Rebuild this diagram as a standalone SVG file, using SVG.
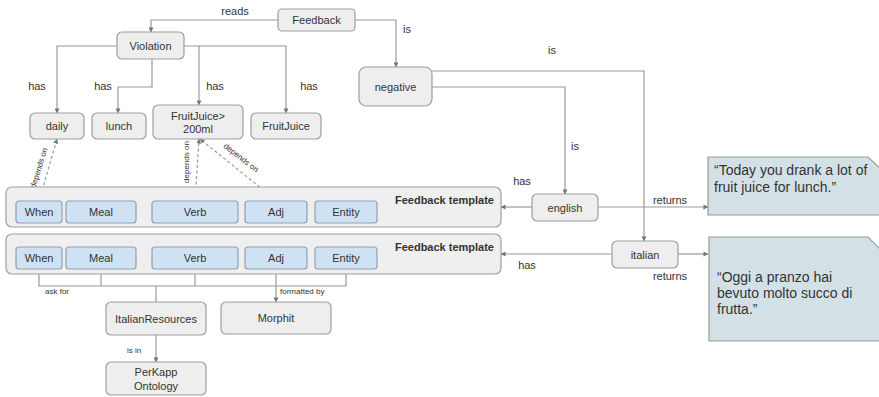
<svg xmlns="http://www.w3.org/2000/svg" width="879" height="397" viewBox="0 0 879 397">
<defs>
<marker id="arr" viewBox="0 0 6 6" refX="5.5" refY="3" markerWidth="5" markerHeight="5" orient="auto-start-reverse" markerUnits="userSpaceOnUse">
<path d="M0,0 L6,3 L0,6 z" fill="#777"/>
</marker>
<style>
text{font-family:"Liberation Sans",Arial,sans-serif;fill:#333;}
.n rect{fill:#eeeeee;stroke:#9e9e9e;stroke-width:1.2;}
.n text{font-size:11px;text-anchor:middle;dominant-baseline:central;}
.tpl rect.bg{fill:#efefef;stroke:#a0a0a0;stroke-width:1.2;}
.tpl rect.s{fill:#cfe2f3;stroke:#8fa0b3;stroke-width:1.2;}
.tpl text{font-size:11px;text-anchor:middle;dominant-baseline:central;}
.tpl text.t{font-weight:bold;text-anchor:end;}
.c path{fill:none;stroke:#9a9a9a;stroke-width:1.2;}
.c path.d{stroke-dasharray:3,2.5;}
.l{font-size:11px;text-anchor:middle;dominant-baseline:central;}
.sl{font-size:8px;dominant-baseline:central;}
.note polygon{fill:#d3e1e6;stroke:#9a9a9a;stroke-width:1.2;}
.note text{font-size:14px;}
</style>
</defs>

<g id="connectors" class="c">
<path d="M278,20 H151 V32" marker-end="url(#arr)"/>
<path d="M355,20 H396 V67" marker-end="url(#arr)"/>
<path d="M117,46 H57 V113" marker-end="url(#arr)"/>
<path d="M152,59 V87 H118 V113" marker-end="url(#arr)"/>
<path d="M184,46 H286 V113" marker-end="url(#arr)"/>
<path d="M199,46 V105" marker-end="url(#arr)"/>
<path d="M432,71 H644 V241" marker-end="url(#arr)"/>
<path d="M432,87 H565 V194" marker-end="url(#arr)"/>
<path d="M532,207 H501" marker-end="url(#arr)"/>
<path d="M598,207 H708" marker-end="url(#arr)"/>
<path d="M612,254 H501" marker-end="url(#arr)"/>
<path d="M678,254 H708" marker-end="url(#arr)"/>
<path class="d" d="M39,201 L57,139" marker-end="url(#arr)"/>
<path class="d" d="M195,201 L199,139" marker-end="url(#arr)"/>
<path class="d" d="M277,201 L200,139" marker-end="url(#arr)"/>
<path d="M39,269 V286 H346 V269"/>
<path d="M101,269 V286"/>
<path d="M195,269 V286"/>
<path d="M156,286 V302"/>
<path d="M276,269 V302" marker-end="url(#arr)"/>
<path d="M156,335 V362" marker-end="url(#arr)"/>
</g>

<g id="labels">
<text class="l" x="235" y="11">reads</text>
<text class="l" x="407" y="29">is</text>
<text class="l" x="37" y="86">has</text>
<text class="l" x="103" y="86">has</text>
<text class="l" x="215" y="86">has</text>
<text class="l" x="309" y="86">has</text>
<text class="l" x="552" y="50">is</text>
<text class="l" x="575" y="146">is</text>
<text class="l" x="522" y="181">has</text>
<text class="l" x="670" y="200">returns</text>
<text class="l" x="527" y="265">has</text>
<text class="l" x="670" y="276">returns</text>
<text class="sl" x="45" y="291">ask for</text>
<text class="sl" x="280" y="291">formatted by</text>
<text class="sl" x="127" y="350">is in</text>
<text class="sl" text-anchor="middle" transform="translate(39,168) rotate(-73)">depends on</text>
<text class="sl" text-anchor="middle" transform="translate(186,162) rotate(-90)">depends on</text>
<text class="sl" text-anchor="middle" transform="translate(241,158) rotate(38)">depends on</text>
</g>

<g id="feedback" class="n"><rect x="278" y="9" width="77" height="22" rx="4"/><text x="316.5" y="20">Feedback</text></g>
<g id="violation" class="n"><rect x="117" y="32" width="67" height="27" rx="5"/><text x="150.5" y="45.5">Violation</text></g>
<g id="negative" class="n"><rect x="359" y="67" width="73" height="39" rx="7"/><text x="395.5" y="87">negative</text></g>
<g id="daily" class="n"><rect x="30" y="113" width="54" height="26" rx="5"/><text x="57" y="126">daily</text></g>
<g id="lunch" class="n"><rect x="92" y="113" width="54" height="26" rx="5"/><text x="119" y="126">lunch</text></g>
<g id="fruitjuice200" class="n"><rect x="153" y="105" width="90" height="34" rx="5"/><text x="198" y="115.5">FruitJuice&gt;</text><text x="198" y="129">200ml</text></g>
<g id="fruitjuice" class="n"><rect x="251" y="113" width="70" height="26" rx="5"/><text x="286" y="126">FruitJuice</text></g>
<g id="english" class="n"><rect x="532" y="194" width="66" height="27" rx="5"/><text x="565" y="207.5">english</text></g>
<g id="italian" class="n"><rect x="612" y="241" width="66" height="27" rx="5"/><text x="645" y="254.5">italian</text></g>
<g id="italianresources" class="n"><rect x="106" y="302" width="100" height="33" rx="5"/><text x="156" y="318.5">ItalianResources</text></g>
<g id="morphit" class="n"><rect x="221" y="302" width="110" height="32" rx="5"/><text x="276" y="318">Morphit</text></g>
<g id="perkapp" class="n"><rect x="106" y="362" width="100" height="33" rx="5"/><text x="156" y="372">PerKapp</text><text x="156" y="386">Ontology</text></g>

<g id="template1" class="tpl">
<rect class="bg" x="6" y="187" width="495" height="40" rx="6"/>
<text class="t" x="494" y="200">Feedback template</text>
<rect class="s" x="16" y="201" width="46" height="22" rx="3"/><text x="39" y="212">When</text>
<rect class="s" x="66" y="201" width="70" height="22" rx="3"/><text x="101" y="212">Meal</text>
<rect class="s" x="152" y="201" width="86" height="22" rx="3"/><text x="195" y="212">Verb</text>
<rect class="s" x="245" y="201" width="62" height="22" rx="3"/><text x="276" y="212">Adj</text>
<rect class="s" x="315" y="201" width="62" height="22" rx="3"/><text x="346" y="212">Entity</text>
</g>

<g id="template2" class="tpl">
<rect class="bg" x="6" y="234" width="495" height="40" rx="6"/>
<text class="t" x="494" y="247">Feedback template</text>
<rect class="s" x="16" y="247" width="46" height="22" rx="3"/><text x="39" y="258">When</text>
<rect class="s" x="66" y="247" width="70" height="22" rx="3"/><text x="101" y="258">Meal</text>
<rect class="s" x="152" y="247" width="86" height="22" rx="3"/><text x="195" y="258">Verb</text>
<rect class="s" x="245" y="247" width="62" height="22" rx="3"/><text x="276" y="258">Adj</text>
<rect class="s" x="315" y="247" width="62" height="22" rx="3"/><text x="346" y="258">Entity</text>
</g>

<g id="note-english" class="note">
<polygon points="708,157 868,157 882,170 882,215 708,215"/>
<text x="714" y="175">“Today you drank a lot of</text>
<text x="714" y="192">fruit juice for lunch.”</text>
</g>
<g id="note-italian" class="note">
<polygon points="709,237 868,237 882,251 882,341 709,341"/>
<text x="717" y="282">“Oggi a pranzo hai</text>
<text x="717" y="298">bevuto molto succo di</text>
<text x="717" y="314">frutta.”</text>
</g>
</svg>
